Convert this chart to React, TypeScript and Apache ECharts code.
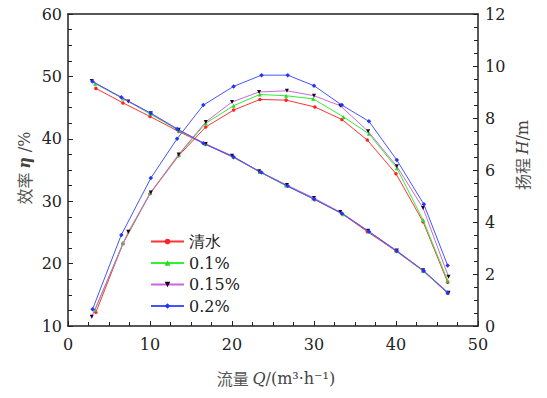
import React, { useEffect, useRef } from "react";
import * as echarts from "echarts";

const seriesNames = ["清水", "0.1%", "0.15%", "0.2%"];

const qWater = [3.4, 6.7, 10.0, 13.5, 16.8, 20.2, 23.4, 26.6, 30.1, 33.4, 36.5, 40.0, 43.3, 46.3];
const q01 = [3.3, 6.7, 10.0, 13.5, 16.8, 20.2, 23.4, 26.6, 29.9, 33.6, 36.7, 40.1, 43.3, 46.3];
const q015 = [2.9, 7.35, 10.1, 13.5, 16.8, 20.0, 23.3, 26.7, 30.0, 33.2, 36.6, 40.1, 43.3, 46.4];
const q02 = [3.0, 6.5, 10.1, 13.3, 16.5, 20.2, 23.6, 26.8, 30.0, 33.4, 36.7, 40.1, 43.4, 46.3];

const effWater = [12.2, 23.2, 31.2, 37.3, 41.9, 44.6, 46.3, 46.2, 45.1, 43.1, 39.8, 34.4, 26.7, 17.0];
const eff01 = [12.6, 23.3, 31.3, 37.4, 42.5, 45.3, 47.1, 46.9, 46.4, 43.5, 40.8, 35.3, 27.0, 17.3];
const eff015 = [11.5, 25.1, 31.4, 37.5, 42.7, 45.9, 47.5, 47.7, 46.9, 45.3, 41.2, 35.6, 28.9, 17.9];
const eff02 = [12.7, 24.6, 33.7, 40.0, 45.4, 48.4, 50.2, 50.2, 48.5, 45.4, 42.8, 36.6, 29.5, 19.7];

const headWater = [9.14, 8.58, 8.06, 7.48, 6.98, 6.48, 5.92, 5.40, 4.86, 4.32, 3.63, 2.88, 2.12, 1.26];
const head01 = [9.32, 8.75, 8.16, 7.52, 7.0, 6.5, 5.92, 5.40, 4.90, 4.30, 3.63, 2.88, 2.12, 1.28];
const head015 = [9.42, 8.63, 8.18, 7.55, 7.0, 6.55, 5.95, 5.42, 4.92, 4.38, 3.66, 2.90, 2.14, 1.28];
const head02 = [9.40, 8.80, 8.18, 7.58, 7.03, 6.50, 5.90, 5.38, 4.88, 4.33, 3.63, 2.88, 2.12, 1.28];

const FONT = "DejaVu Serif";
const CJK = "Noto Sans CJK SC";

const styles = [
  { line: "#ff3333", marker: "#ff2222", symbol: "circle", size: 3.5 },
  { line: "#33ee33", marker: "#22dd22", symbol: "triangle", size: 4 },
  { line: "#cc66dd", marker: "#220022", symbol: "path://M0,0 L10,0 L5,10 Z", size: 4 },
  { line: "#4455ff", marker: "#2233ff", symbol: "diamond", size: 4.5 },
];

const qs = [qWater, q01, q015, q02];
const effs = [effWater, eff01, eff015, eff02];
const heads = [headWater, head01, head015, head02];

export default function App() {
  const ref = useRef<HTMLDivElement>(null);
  useEffect(() => {
    if (!ref.current) return;
    const chart = echarts.init(ref.current, null, { renderer: "svg" });
    const series: any[] = [];
    seriesNames.forEach((name, i) => {
      const s = styles[i];
      const common = {
        type: "line",
        name,
        symbol: s.symbol,
        symbolSize: s.size,
        showSymbol: true,
        lineStyle: { color: s.line, width: 1 },
        itemStyle: { color: s.marker },
        z: 2 + i,
      };
      series.push({ ...common, yAxisIndex: 0, data: qs[i].map((q, k) => [q, effs[i][k]]) });
      series.push({ ...common, yAxisIndex: 1, data: qs[i].map((q, k) => [q, heads[i][k]]) });
    });
    const axisLine = { show: true, onZero: false, lineStyle: { color: "#222", width: 1.5 } };
    const label = { fontSize: 16, fontFamily: FONT, color: "#222" };
    chart.setOption({
      animation: false,
      textStyle: { fontFamily: FONT },
      grid: { left: 68, right: 69, top: 14, bottom: 72, containLabel: false },
      legend: {
        orient: "vertical",
        left: 145,
        top: 227,
        itemWidth: 33,
        itemHeight: 7,
        itemGap: 2.5,
        data: seriesNames,
        textStyle: { fontSize: 16, fontFamily: FONT, color: "#222", lineHeight: 19 },
      },
      xAxis: [
        {
          type: "value",
          min: 0,
          max: 50,
          interval: 10,
          axisLine,
          axisTick: { show: true, inside: true, length: 5, lineStyle: { color: "#222" } },
          minorTick: { show: true, splitNumber: 4, length: 4, lineStyle: { color: "#222" } },
          axisLabel: { ...label, margin: 10 },
          splitLine: { show: false },
        },
        {
          type: "value",
          position: "top",
          min: 0,
          max: 50,
          interval: 10,
          axisLine,
          axisTick: { show: false },
          axisLabel: { show: false },
          splitLine: { show: false },
        },
      ],
      yAxis: [
        {
          type: "value",
          min: 10,
          max: 60,
          interval: 10,
          axisLine,
          axisTick: { show: true, inside: true, length: 5, lineStyle: { color: "#222" } },
          minorTick: { show: true, splitNumber: 4, length: 4, lineStyle: { color: "#222" } },
          axisLabel: { ...label, margin: 6 },
          splitLine: { show: false },
        },
        {
          type: "value",
          min: 0,
          max: 12,
          interval: 2,
          position: "right",
          axisLine,
          axisTick: { show: true, inside: true, length: 5, lineStyle: { color: "#222" } },
          minorTick: { show: true, splitNumber: 4, length: 4, lineStyle: { color: "#222" } },
          axisLabel: { ...label, margin: 7 },
          splitLine: { show: false },
        },
      ],
      graphic: [
        {
          type: "text",
          x: 24,
          y: 168,
          rotation: Math.PI / 2,
          style: {
            text: "{c|效率 }{i|η}{t| /%}",
            align: "center",
            verticalAlign: "middle",
            fill: "#444",
            rich: {
              c: { fontFamily: CJK, fontSize: 16, fill: "#555" },
              i: { fontFamily: FONT, fontSize: 16, fontStyle: "italic", fontWeight: "bold", fill: "#444" },
              t: { fontFamily: FONT, fontSize: 16, fill: "#444" },
            },
          },
        },
        {
          type: "text",
          x: 522,
          y: 155,
          rotation: Math.PI / 2,
          style: {
            text: "{c|扬程 }{i|H}{t|/m}",
            align: "center",
            verticalAlign: "middle",
            fill: "#444",
            rich: {
              c: { fontFamily: CJK, fontSize: 16, fill: "#555" },
              i: { fontFamily: FONT, fontSize: 16, fontStyle: "italic", fill: "#444" },
              t: { fontFamily: FONT, fontSize: 16, fill: "#444" },
            },
          },
        },
        {
          type: "text",
          x: 276,
          y: 378,
          style: {
            text: "{c|流量 }{i|Q}{t|/(m³·h⁻¹)}",
            align: "center",
            verticalAlign: "middle",
            fill: "#444",
            rich: {
              c: { fontFamily: CJK, fontSize: 16, fill: "#555" },
              i: { fontFamily: FONT, fontSize: 16, fontStyle: "italic", fill: "#444" },
              t: { fontFamily: FONT, fontSize: 16, fill: "#444" },
            },
          },
        },
      ],
      series,
    });
    return () => chart.dispose();
  }, []);
  return (
    <div
      ref={ref}
      style={{ position: "fixed", left: 0, top: 0, width: 547, height: 398, background: "#fff" }}
    />
  );
}
